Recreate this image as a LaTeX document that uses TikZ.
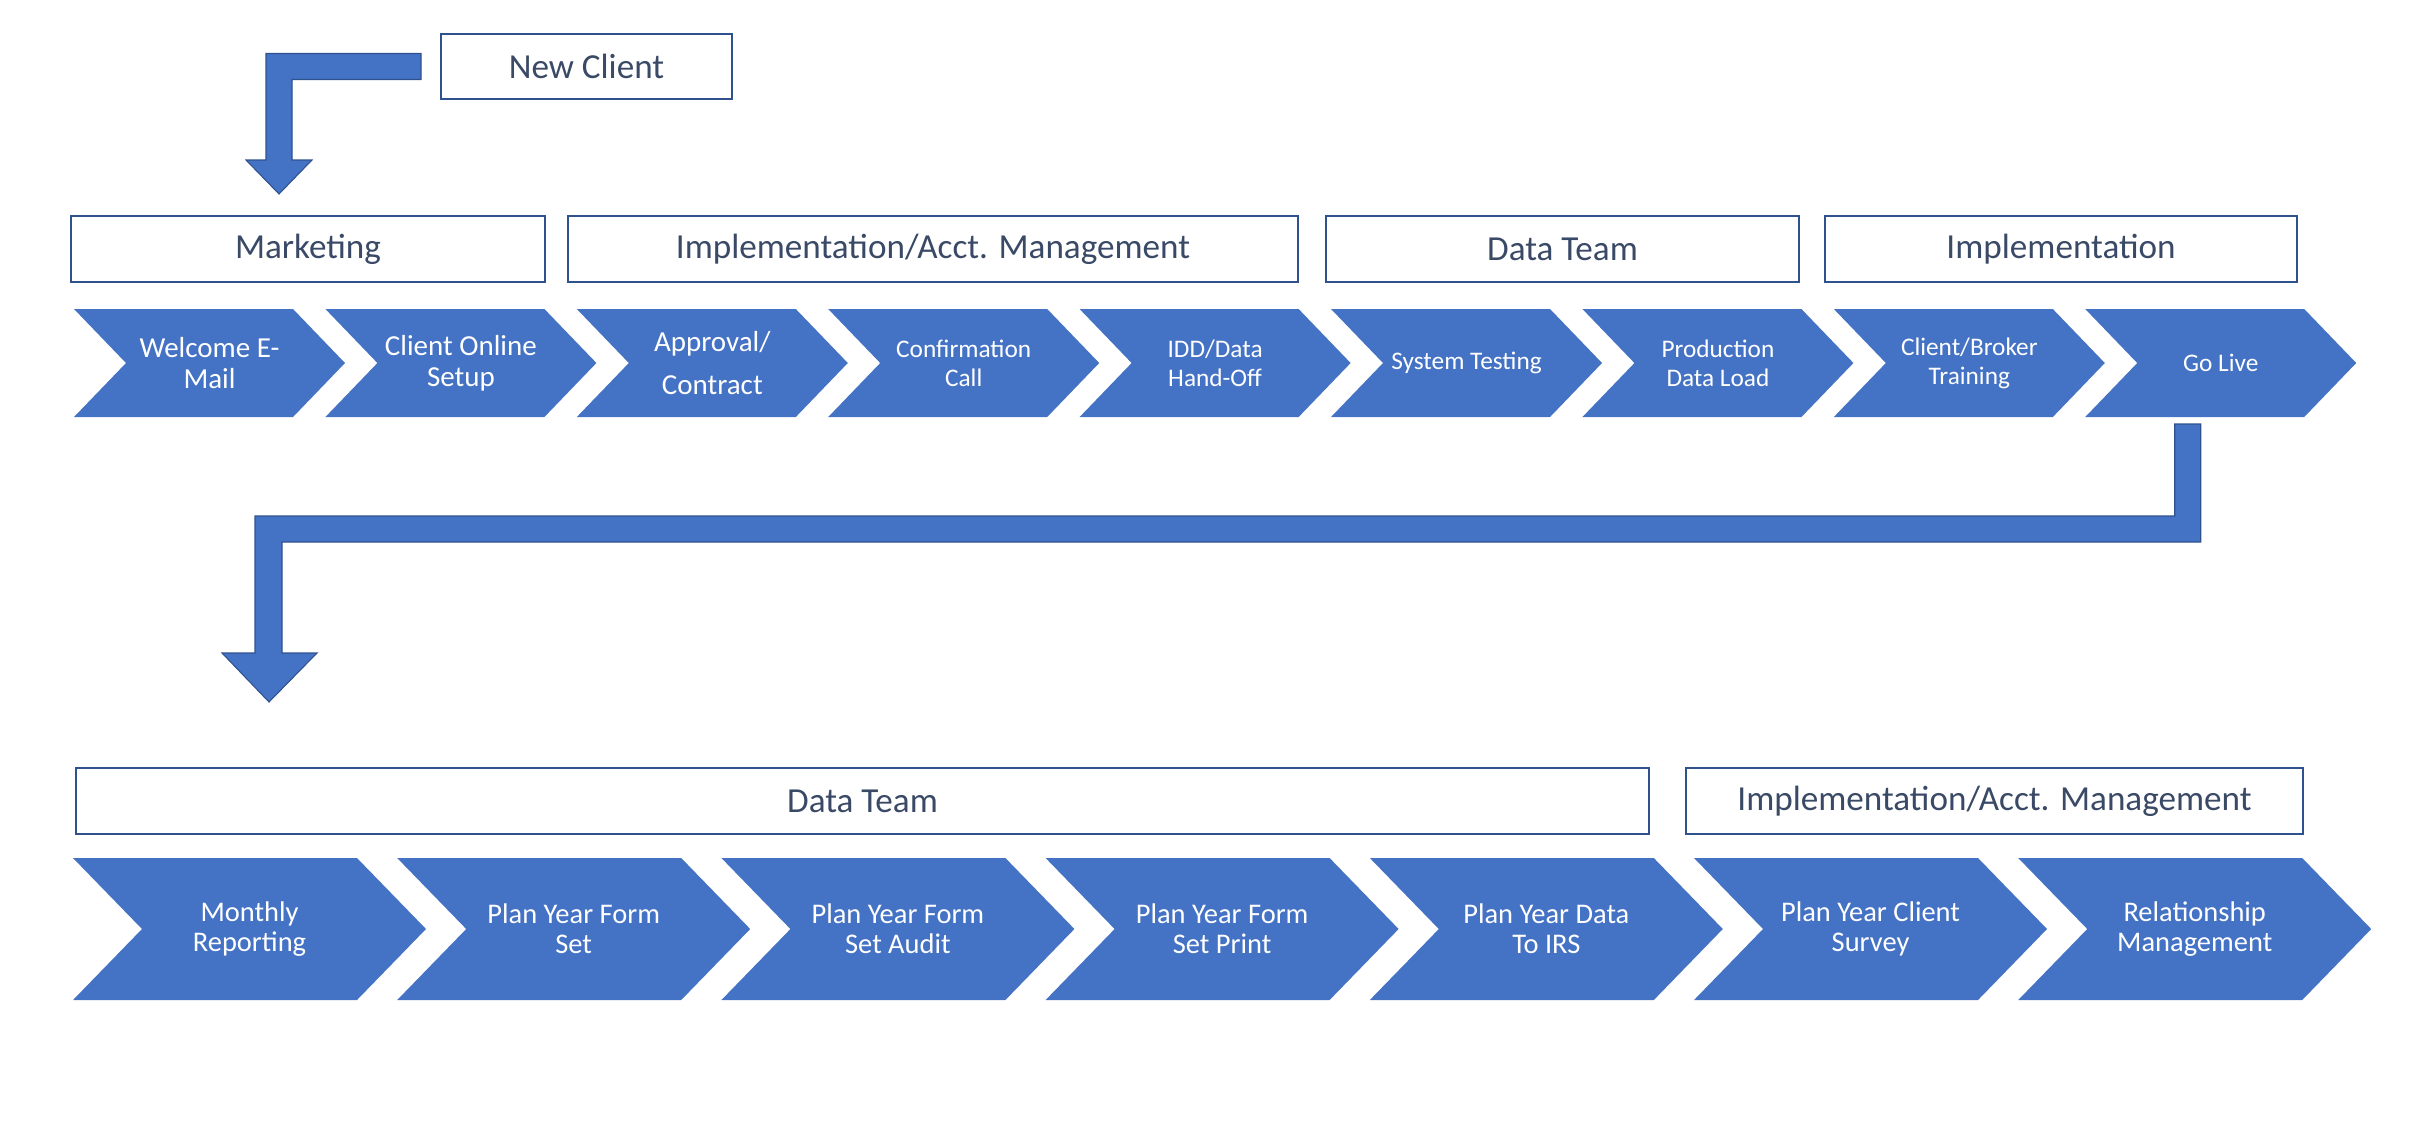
\documentclass[tikz,border=0pt]{standalone}
\usepackage{fontspec}
\setmainfont{Carlito}
\usepackage{tikz}
\usetikzlibrary{positioning,calc}

\definecolor{stepblue}{HTML}{4472C4}
\definecolor{edgeblue}{HTML}{2F528F}
\definecolor{labelink}{HTML}{3A4A66}

\def\chevtip{0.5cm}

\begin{document}
\begin{tikzpicture}[
  every node/.style={inner sep=2pt},
  chevtip/.store in=\chevtip,
  chevron/.style={
    rectangle, outer sep=0pt, inner sep=0pt,
    align=center, text=white,
    path picture={
      \fill[stepblue]
        (path picture bounding box.north west)
        -- ([xshift=-\chevtip]path picture bounding box.north east)
        -- (path picture bounding box.east)
        -- ([xshift=-\chevtip]path picture bounding box.south east)
        -- (path picture bounding box.south west)
        -- ([xshift=\chevtip]path picture bounding box.west)
        -- cycle;
    },
  },
  upper/.style={
    chevron, chevtip=0.52cm,
    minimum width=2.71cm, minimum height=1.08cm,
    font=\fontsize{7.2}{8.25}\selectfont,
  },
  upperbig/.style={upper, font=\fontsize{8.25}{8.8}\selectfont},
  lower/.style={
    chevron, chevtip=0.69cm,
    minimum width=3.53cm, minimum height=1.42cm,
    font=\fontsize{8.1}{8.5}\selectfont,
  },
  teambox/.style={
    rectangle, draw=edgeblue, line width=0.6pt, fill=white,
    minimum height=0.66cm, outer sep=0pt, text=labelink,
    font=\fontsize{10}{12}\selectfont,
  },
  bendarrow/.style={fill=stepblue, draw=edgeblue, line width=0.3pt},
]

\useasboundingbox (0,0) rectangle (24.34,-11.28);

% ----- overlap of neighbouring chevrons -----
\def\gapA{-0.196cm}
\def\gapB{-0.288cm}

% ----- start box -----
\node[teambox, minimum width=2.91cm, minimum height=0.65cm] (newclient) at (5.865,-0.665) {New Client};

% ----- team headers, row 1 -----
\node[teambox, minimum width=4.74cm] (marketing) at (3.08,-2.49) {Marketing};
\node[teambox, minimum width=7.30cm] (implacct) at (9.33,-2.49) {Implementation/Acct. Management};
\node[teambox, minimum width=4.73cm] (datateam) at (15.625,-2.49) {Data Team};
\node[teambox, minimum width=4.72cm] (impl) at (20.61,-2.49) {Implementation};

% ----- steps, row 1 -----
\node[upperbig] (welcome) at (2.095,-3.63) {Welcome E-\\Mail};
\node[upperbig, right=\gapA of welcome] (setup) {Client Online\\Setup};
\node[upperbig, right=\gapA of setup] (approval) {Approval/\\[3.4pt]Contract};
\node[upper, right=\gapA of approval] (confirm) {Confirmation\\Call};
\node[upper, right=\gapA of confirm] (handoff) {IDD/Data\\Hand-Off};
\node[upper, right=\gapA of handoff] (testing) {System Testing};
\node[upper, right=\gapA of testing] (dataload) {Production\\Data Load};
\node[upper, right=\gapA of dataload] (training) {Client/Broker\\Training};
\node[upper, right=\gapA of training] (golive) {Go Live};

% ----- team headers, row 2 -----
\node[teambox, minimum width=15.73cm] (datateam2) at (8.625,-8.01) {Data Team};
\node[teambox, minimum width=6.17cm] (implacct2) at (19.945,-8.01) {Implementation/Acct. Management};

% ----- steps, row 2 -----
\node[lower] (monthly) at (2.495,-9.29) {Monthly\\Reporting};
\node[lower, right=\gapB of monthly] (formset) {Plan Year Form\\Set};
\node[lower, right=\gapB of formset] (formaudit) {Plan Year Form\\Set Audit};
\node[lower, right=\gapB of formaudit] (formprint) {Plan Year Form\\Set Print};
\node[lower, right=\gapB of formprint] (irs) {Plan Year Data\\To IRS};
\node[lower, right=\gapB of irs] (survey) {Plan Year Client\\Survey};
\node[lower, right=\gapB of survey] (relation) {Relationship\\Management};

% ----- bent arrow: new client -> marketing -----
\coordinate (ncfoot) at ($(newclient.west)+(-0.2,0)$);
\coordinate (tipA) at (2.79,-1.94);
\fill[bendarrow] ($(ncfoot)+(0,0.13)$) -| ($(tipA)+(-0.13,0.34)$)
  -- ++(-0.2,0) -- (tipA) -- ++(0.33,0.34) -- ++(-0.2,0)
  |- ($(ncfoot)+(0,-0.13)$) -- cycle;

% ----- bent arrow: go live -> second row -----
\coordinate (glfoot) at ($(golive.south)+(-0.33,-0.07)$);
\coordinate (tipB) at (2.69,-7.02);
\fill[bendarrow] ($(glfoot)+(-0.13,0)$) -- ++(0.26,0)
  |- ($(tipB)+(0.13,1.6)$) -- ++(0,-1.11) -- ++(0.35,0)
  -- (tipB) -- ++(-0.47,0.49) -- ++(0.33,0)
  |- ($(glfoot)+(-0.13,-0.92)$) -- cycle;

\end{tikzpicture}
\end{document}
